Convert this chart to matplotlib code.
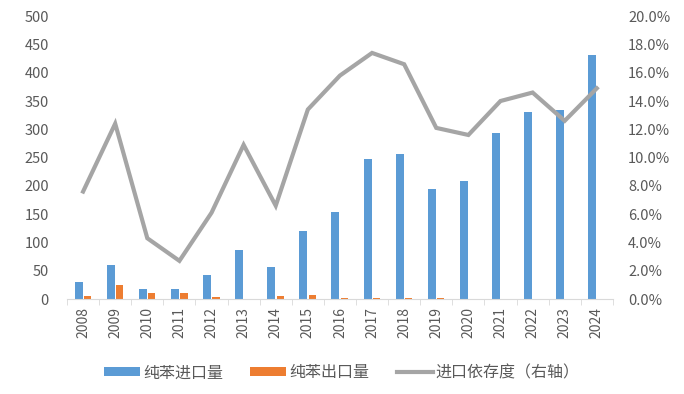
import numpy as np
import matplotlib
matplotlib.use("Agg")
import matplotlib.pyplot as plt
from matplotlib.ticker import FuncFormatter, FixedLocator

plt.rcParams['font.family'] = ['Noto Sans CJK SC', 'DejaVu Sans']

years = ['2008', '2009', '2010', '2011', '2012', '2013', '2014', '2015', '2016',
         '2017', '2018', '2019', '2020', '2021', '2022', '2023', '2024']
imports = [30, 60, 18, 18, 42, 87, 57, 120, 154, 248, 256, 194, 208, 294, 330, 334, 431]
exports = [6, 25, 10, 10, 3, 0, 6, 8, 2, 2, 2, 2, 0, 0, 0, 0, 0]
dependence = [7.6, 12.4, 4.3, 2.7, 6.1, 10.9, 6.6, 13.4, 15.8, 17.4, 16.6, 12.1,
              11.6, 14.0, 14.6, 12.6, 14.9]

text_col = '#595959'

fig = plt.figure(figsize=(6.84, 3.94), dpi=100)
ax = fig.add_axes([0.098, 0.241, 0.798, 0.718])
ax2 = ax.twinx()

x = np.arange(len(years))
b1 = ax.bar(x - 0.14, imports, width=0.25, color='#5B9BD5', label='纯苯进口量', zorder=2)
b2 = ax.bar(x + 0.14, exports, width=0.23, color='#ED7D31', label='纯苯出口量', zorder=2)
l1, = ax2.plot(x, np.array(dependence) / 100, color='#A5A5A5', lw=3.0,
               label='进口依存度（右轴）', solid_joinstyle='miter')

ax.set_xlim(-0.5, len(years) - 0.5)
ax.set_ylim(0, 500)
ax.set_yticks(np.arange(0, 501, 50))
ax2.set_ylim(0, 0.2)
ax2.set_yticks(np.arange(0, 0.2001, 0.02))
ax2.yaxis.set_major_formatter(FuncFormatter(lambda v, p: f'{v * 100:.1f}%'))

ax.set_xticks(x)
ax.set_xticklabels(years, rotation=90)
ax.xaxis.set_minor_locator(FixedLocator(np.arange(-0.5, len(years), 1)))
ax.tick_params(axis='x', which='major', length=0, pad=6, labelsize=10, labelcolor=text_col)
ax.tick_params(axis='x', which='minor', length=4, color='#D9D9D9')
ax.tick_params(axis='y', length=0, labelsize=10.5, labelcolor=text_col, pad=13)
ax2.tick_params(axis='y', length=0, labelsize=10.5, labelcolor=text_col, pad=11)

for a in (ax, ax2):
    for s in ['top', 'left', 'right']:
        a.spines[s].set_visible(False)
ax.spines['bottom'].set_color('#D9D9D9')
ax2.spines['bottom'].set_visible(False)

fig.legend(handles=[b1, b2, l1], loc='center', bbox_to_anchor=(0.5, 0.054), ncol=3,
           frameon=False, fontsize=11.5, handlelength=2.25, handleheight=0.55,
           columnspacing=1.7, handletextpad=0.2, labelcolor=text_col)

fig.savefig('out.png', dpi=100)
